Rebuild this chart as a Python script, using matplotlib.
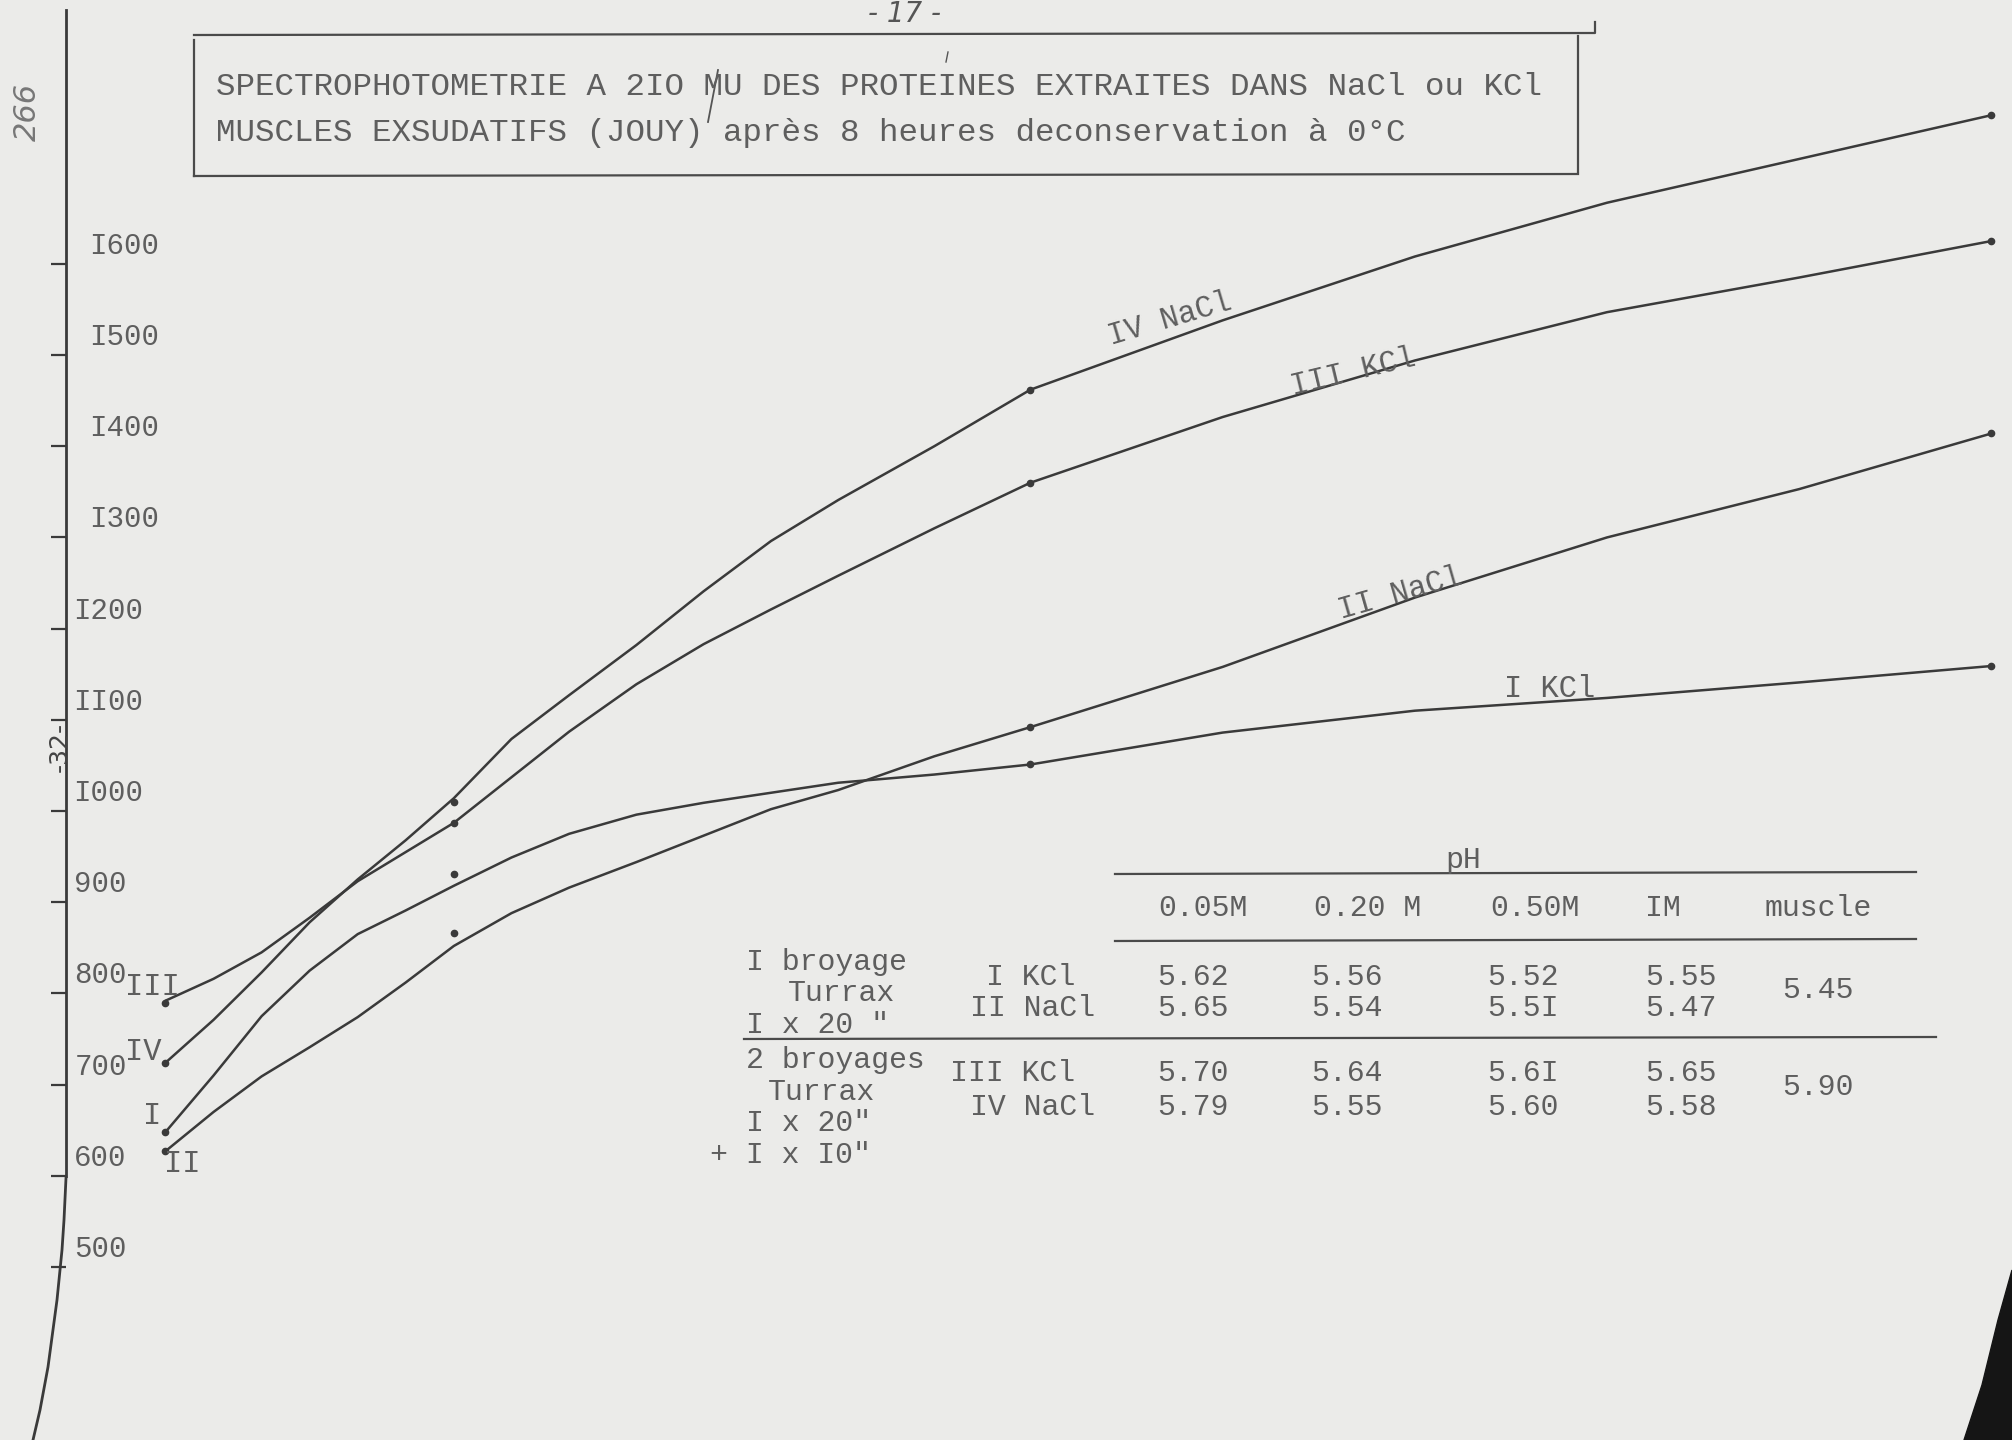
import matplotlib
matplotlib.use("Agg")
import matplotlib.pyplot as plt
from matplotlib.lines import Line2D
from matplotlib.patches import Polygon
from matplotlib.transforms import Affine2D

# salt molarity of each extraction (the sheet has no x axis drawn)
conc = [0.05, 0.20, 0.50, 1.00]

# measured points, absorbance at 210 mu
pts_IV_NaCl = [724, 1010, 1462, 1763]
pts_III_KCl = [790, 987, 1360, 1625]
pts_II_NaCl = [627, 866, 1092, 1414]
pts_I_KCl = [648, 931, 1052, 1159]

# the hand drawn curves
trace_x = [0.05, 0.075, 0.10, 0.125, 0.15, 0.175, 0.20, 0.23, 0.26, 0.295,
           0.33, 0.365, 0.40, 0.45, 0.50, 0.60, 0.70, 0.80, 0.90, 1.00]
trace_IV_NaCl = [724, 771, 823, 878, 925, 968, 1014, 1079, 1127, 1182,
                 1241, 1296, 1341, 1400, 1462, 1538, 1608, 1667, 1715, 1763]
trace_III_KCl = [792, 816, 845, 883, 923, 955, 987, 1037, 1087, 1139,
                 1183, 1221, 1258, 1310, 1360, 1432, 1494, 1547, 1585, 1625]
trace_II_NaCl = [627, 670, 709, 741, 774, 812, 852, 888, 916, 944,
                 973, 1002, 1023, 1060, 1092, 1158, 1234, 1300, 1353, 1414]
trace_I_KCl = [648, 710, 775, 825, 865, 891, 918, 949, 975, 996,
               1009, 1020, 1031, 1040, 1051, 1086, 1110, 1124, 1141, 1159]

yticks = [500, 600, 700, 800, 900, 1000, 1100, 1200, 1300, 1400, 1500, 1600]

# pH table
ph_cols = ["0.05M", "0.20 M", "0.50M", "IM", "muscle"]
ph_I_KCl = [5.62, 5.56, 5.52, 5.55]
ph_II_NaCl = [5.65, 5.54, 5.51, 5.47]
ph_III_KCl = [5.70, 5.64, 5.61, 5.65]
ph_IV_NaCl = [5.79, 5.55, 5.60, 5.58]
ph_muscle = [5.45, 5.90]

title1 = "SPECTROPHOTOMETRIE A 2IO MU DES PROTEINES EXTRAITES DANS NaCl ou KCl"
title2 = "MUSCLES EXSUDATIFS (JOUY) après 8 heures deconservation à 0°C"

W, H = 2012, 1440
paper = "#ebebe9"
ink = "#3a3a3a"
type_ink = "#5e5e5e"
mono = "Liberation Mono"


def typed(v):
    # the typewriter has no "1" key, an I is used
    return str(v).replace("1", "I")


fig = plt.figure(figsize=(W / 100, H / 100), dpi=100, facecolor=paper)
# pixel coordinates of the sheet, origin top left
P = Affine2D().scale(1 / W, -1 / H).translate(0, 1) + fig.transFigure

ax = fig.add_axes([0, 0, 1, 1])
ax.set_facecolor("none")
ax.set_xlim(-0.0361, 1.0107)
ax.set_ylim(310.3, 1889.3)
for s in ["top", "right", "bottom"]:
    ax.spines[s].set_visible(False)
ax.spines["left"].set_position(("data", -0.0018))
ax.spines["left"].set_bounds(600, 1878)
ax.spines["left"].set_color(ink)
ax.spines["left"].set_linewidth(2.0)
ax.set_xticks([])
ax.set_yticks(yticks)
ax.tick_params(axis="y", direction="out", length=11, width=1.6, color=ink, labelleft=False)

# lower end of the axis line bends away on the sheet
fig.add_artist(Line2D([66, 64, 62, 57, 48, 40, 33], [1178, 1220, 1250, 1300, 1367, 1410, 1440],
                      transform=P, color=ink, lw=2.0))

label_dx = {1600: 17, 1500: 17, 1400: 17, 1300: 17, 1200: 5, 1100: 5, 1000: 5}
for v in yticks:
    ax.annotate(typed(v), xy=(-0.0018, v), xytext=(label_dx.get(v, 6), 13),
                textcoords="offset points", ha="left", va="center",
                fontsize=21, family=mono, color=type_ink)

# curves and points
for tr, pts in [(trace_IV_NaCl, pts_IV_NaCl), (trace_III_KCl, pts_III_KCl),
                (trace_II_NaCl, pts_II_NaCl), (trace_I_KCl, pts_I_KCl)]:
    ax.plot(trace_x, tr, color=ink, lw=1.8, solid_capstyle="round", solid_joinstyle="round")
    ax.plot(conc, pts, "o", ms=4.5, color=ink)

# curve names
tkw = dict(transform=P, family=mono, color=type_ink, fontsize=22, ha="center", va="center")
fig.text(1170, 319, "IV NaCl", rotation=16.5, **tkw)
fig.text(1353, 372, "III KCl", rotation=13.5, **tkw)
fig.text(1400, 594, "II NaCl", rotation=16, **tkw)
fig.text(1550, 689, "I KCl", **tkw)
fig.text(152, 987, "III", **tkw)
fig.text(143, 1052, "IV", **tkw)
fig.text(152, 1116, "I", **tkw)
fig.text(182, 1164, "II", **tkw)

# title box
lkw = dict(transform=P, color="#4a4a4a", lw=1.6)
fig.add_artist(Line2D([194, 1595, 1595], [35, 33, 22], **lkw))
fig.add_artist(Line2D([194, 194], [40, 176], **lkw))
fig.add_artist(Line2D([194, 1578], [176, 174], **lkw))
fig.add_artist(Line2D([1578, 1578], [36, 172], **lkw))
fig.text(216, 87, title1, transform=P, family=mono, color=type_ink, fontsize=23.4,
         ha="left", va="center")
fig.text(216, 133, title2, transform=P, family=mono, color=type_ink, fontsize=23.4,
         ha="left", va="center")
fig.add_artist(Line2D([718, 708], [70, 122], transform=P, color="#555555", lw=1.3))
fig.add_artist(Line2D([948, 946], [52, 62], transform=P, color="#555555", lw=1.0))
fig.text(905, 14, "- 17 -", transform=P, color="#555555", fontsize=20, style="italic",
         ha="center", va="center")
fig.text(27, 112, "266", transform=P, color="#777777", fontsize=22, style="italic",
         rotation=90, ha="center", va="center")
fig.text(60, 747, "-32-", transform=P, color="#444444", fontsize=18,
         rotation=90, ha="center", va="center")

# pH table
tb = dict(transform=P, family=mono, color=type_ink, fontsize=21.5, va="center")
fig.text(1463, 860, "pH", ha="center", **tb)
fig.add_artist(Line2D([1115, 1916], [874, 872], **lkw))
fig.add_artist(Line2D([1115, 1916], [941, 939], **lkw))
fig.add_artist(Line2D([744, 1936], [1039, 1037], **lkw))
for x, s in zip([1203, 1368, 1535, 1663, 1818], ph_cols):
    fig.text(x, 908, s, ha="center", **tb)

fig.text(746, 962, "I broyage", ha="left", **tb)
fig.text(788, 993, "Turrax", ha="left", **tb)
fig.text(746, 1025, 'I x 20 "', ha="left", **tb)
fig.text(746, 1060, "2 broyages", ha="left", **tb)
fig.text(768, 1092, "Turrax", ha="left", **tb)
fig.text(746, 1123, 'I x 20"', ha="left", **tb)
fig.text(710, 1155, '+ I x I0"', ha="left", **tb)

fig.text(1075, 977, "I KCl", ha="right", **tb)
fig.text(1095, 1008, "II NaCl", ha="right", **tb)
fig.text(1075, 1073, "III KCl", ha="right", **tb)
fig.text(1095, 1107, "IV NaCl", ha="right", **tb)

col_x = [1193, 1347, 1523, 1681]
for row_y, row in zip([977, 1008, 1073, 1107], [ph_I_KCl, ph_II_NaCl, ph_III_KCl, ph_IV_NaCl]):
    for x, v in zip(col_x, row):
        fig.text(x, row_y, typed(f"{v:.2f}"), ha="center", **tb)
for y, v in zip([990, 1087], ph_muscle):
    fig.text(1818, y, f"{v:.2f}", ha="center", **tb)

# page curl in the bottom right corner
fig.add_artist(Polygon([(2012, 1270), (1998, 1320), (1982, 1385), (1964, 1440), (2012, 1440)],
                       closed=True, transform=P, color="#151515"))

fig.savefig("out.png", dpi=100, facecolor=paper)
